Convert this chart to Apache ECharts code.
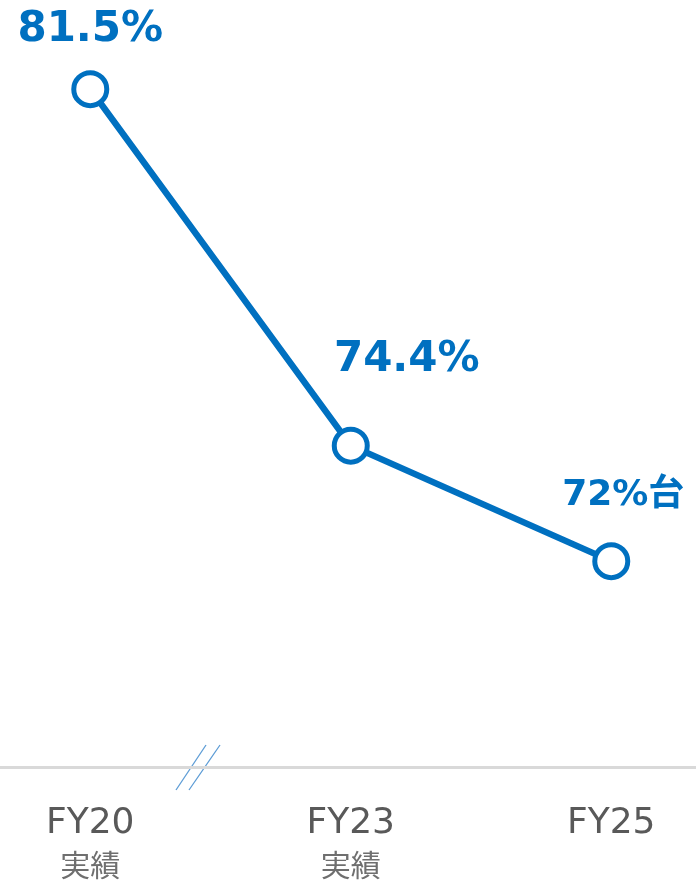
<!DOCTYPE html>
<html>
<head>
<meta charset="utf-8">
<script src="https://cdn.jsdelivr.net/npm/echarts@6/dist/echarts.min.js"></script>
<style>
html,body{margin:0;padding:0;background:#fff;}
#chart{width:696px;height:880px;}
</style>
</head>
<body>
<div id="chart"></div>
<script>
const categories = ['FY20', 'FY23', 'FY25'];
const subLabels = ['実績', '実績', ''];
const values = [81.5, 74.4, 72.1];
const valueLabels = ['81.5%', '74.4%', '72%台'];

const BLUE = '#0070C0';
const labelStyles = [
  { fontSize: 42, offset: [0, -59] },
  { fontSize: 42, offset: [56, -86] },
  { fontSize: 36, offset: [12, -65] }
];

const chart = echarts.init(document.getElementById('chart'));
chart.setOption({
  animation: false,
  grid: { left: 0, right: 0, top: 0, bottom: 112 },
  xAxis: {
    type: 'value',
    min: -0.3465,
    max: 2.3253,
    splitLine: { show: false },
    axisLine: { show: true, onZero: false, lineStyle: { color: '#d9d9d9', width: 3 } },
    axisTick: { show: false },
    axisLabel: {
      margin: 37,
      customValues: [0, 1, 2],
      showMinLabel: true,
      showMaxLabel: true,
      formatter: function (v) {
        const i = Math.round(v);
        if (i < 0 || i > 2 || Math.abs(v - i) > 1e-6) return '';
        return subLabels[i] ? '{a|' + categories[i] + '}\n{b|' + subLabels[i] + '}' : '{a|' + categories[i] + '}';
      },
      rich: {
        a: { fontFamily: 'DejaVu Sans', fontSize: 36, color: '#595959', lineHeight: 40 },
        b: { fontFamily: 'Noto Sans CJK JP', fontSize: 30, color: '#6f6f6f', lineHeight: 42 }
      }
    }
  },
  yAxis: {
    type: 'value',
    min: 68,
    max: 83.275,
    show: false,
    splitLine: { show: false }
  },
  series: [{
    type: 'line',
    data: values.map(function (v, i) {
      return {
        value: [i, v],
        label: {
          show: true,
          position: 'inside',
          formatter: valueLabels[i],
          fontSize: labelStyles[i].fontSize,
          offset: labelStyles[i].offset
        }
      };
    }),
    symbol: 'circle',
    symbolSize: 33,
    lineStyle: { color: BLUE, width: 6.5 },
    itemStyle: { color: '#ffffff', borderColor: BLUE, borderWidth: 5 },
    label: {
      color: BLUE,
      fontWeight: 'bold',
      fontFamily: 'DejaVu Sans, Noto Sans CJK JP'
    },
    z: 3
  }],
  graphic: [
    { type: 'line', shape: { x1: 176, y1: 790, x2: 206, y2: 745 }, style: { stroke: '#5B9BD5', lineWidth: 1.3 } },
    { type: 'line', shape: { x1: 189, y1: 790, x2: 220, y2: 745 }, style: { stroke: '#5B9BD5', lineWidth: 1.3 } }
  ]
});
</script>
</body>
</html>
